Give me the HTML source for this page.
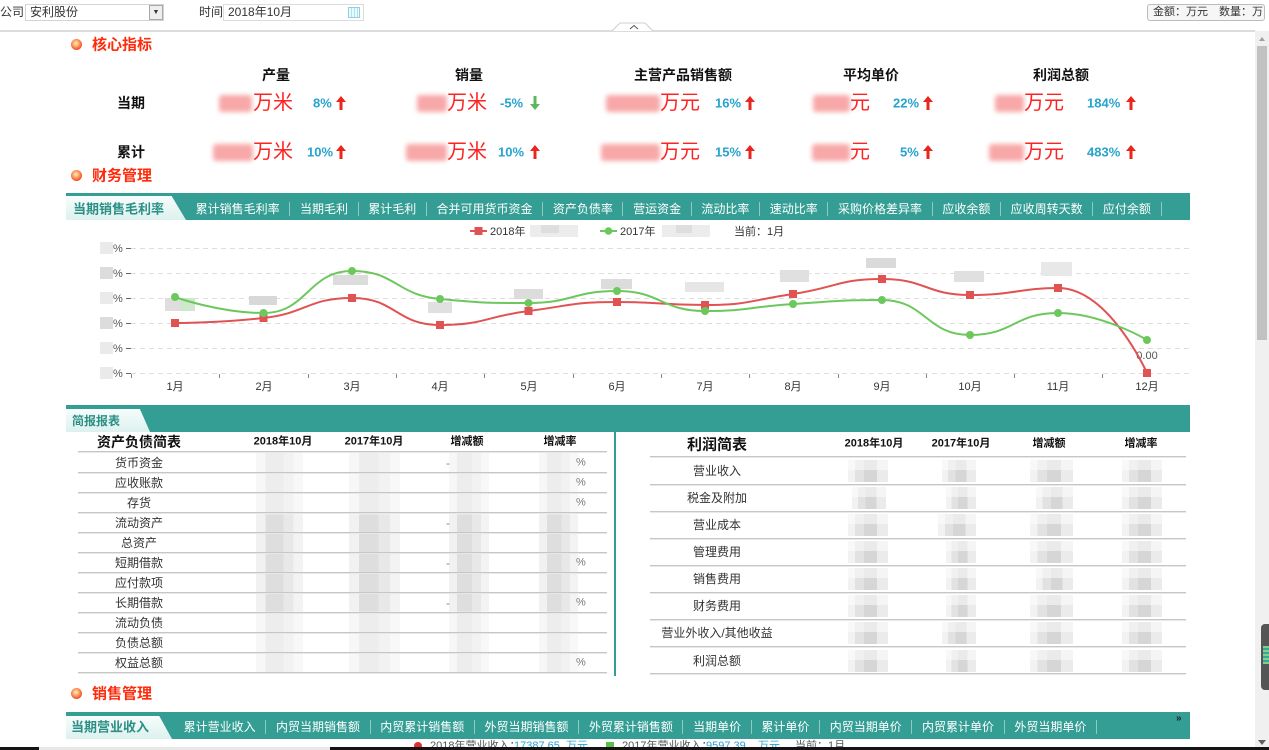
<!DOCTYPE html>
<html><head><meta charset="utf-8">
<style>
*{margin:0;padding:0;box-sizing:border-box}
html,body{width:1269px;height:750px;overflow:hidden;background:#fff}
body{position:relative;font-family:"Liberation Sans","Noto Sans CJK SC",sans-serif;color:#333}
.a{position:absolute;white-space:nowrap;line-height:1}
.vc{transform:translateY(-50%)}
.cc{transform:translate(-50%,-50%)}
.sec{font-size:15px;font-weight:bold;color:#ff2a0a;left:92px}
.ico{position:absolute;left:71px;width:11px;height:11px;border-radius:50%;background:radial-gradient(circle at 45% 40%,#fff0d0 0,#ffb070 30%,#f0502a 70%,#d83a20 100%)}
.kh{font-size:14px;font-weight:bold;color:#111}
.unit{font-size:20px;color:#ff2222}
.pct{font-size:13px;font-weight:bold;color:#27a3cd}
.blur{position:absolute;background:#f8a8a8;filter:blur(2.5px);border-radius:3px}
.bar{position:absolute;left:66px;width:1124px;background:#349e95}
.tabs{position:absolute;display:flex;color:#fff;font-size:12px;line-height:14px}
.tabs span{padding:0 9.65px;border-right:1px solid rgba(255,255,255,.45)}
.act{position:absolute;left:66px;clip-path:polygon(0 0,88% 0,100% 100%,0 100%);background:linear-gradient(#f7fdfc,#dcf1ee)}
.actt{font-size:13px;font-weight:bold;color:#2b8f86}
.tl{font-size:12px;color:#333}
.th{font-size:11px;font-weight:bold;color:#111}
.ln{position:absolute;height:2px;background:linear-gradient(#c6c6c6 0 50%,#e8e8e8 50%)}
.g{position:absolute;background:linear-gradient(180deg,rgba(255,255,255,.45) 0 28%,rgba(255,255,255,0) 28% 72%,rgba(255,255,255,.45) 72%),linear-gradient(90deg,#f1f1f1 0 20%,#dedede 20% 58%,#e8e8e8 58% 80%,#f3f3f3 80%)}
.h{background:linear-gradient(180deg,rgba(255,255,255,.5) 0 45%,rgba(255,255,255,0) 45%),linear-gradient(90deg,#f2f2f2 0 18%,#e2e2e2 18% 40%,#d6d6d6 40% 72%,#ebebeb 72%)}
</style></head><body>

<!-- top controls -->
<div class="a" style="left:0;top:6px;font-size:12px">公司</div>
<div class="a" style="left:25px;top:4px;width:139px;height:17px;border:1px solid #d4d4d4"></div>
<div class="a" style="left:30px;top:6px;font-size:12px">安利股份</div>
<div class="a" style="left:149px;top:5px;width:14px;height:15px;border:1px solid #a8a8a8;background:#eee;font-size:7px;text-align:center;line-height:13px;color:#333">▼</div>
<div class="a" style="left:199px;top:6px;font-size:12px">时间</div>
<div class="a" style="left:223px;top:4px;width:141px;height:17px;border:1px solid #dcdcdc"></div>
<div class="a" style="left:228px;top:6px;font-size:12px">2018年10月</div>
<div class="a" style="left:348px;top:7px;width:12px;height:11px;border:1px solid #9cd;background:repeating-linear-gradient(90deg,#dff 0 2px,#bde 2px 3px)"></div>
<div class="a" style="left:1147px;top:4px;width:118px;height:17px;border:1px solid #bcbcbc;border-radius:3px;background:#f6f6f6"></div>
<div class="a" style="left:1153px;top:7px;font-size:11px;color:#333">金额：万元</div>
<div class="a" style="left:1219px;top:7px;font-size:11px;color:#333">数量：万</div>

<div class="a" style="left:0;top:30px;width:1255px;height:2px;background:#dcdcdc"></div>

<!-- scrollbar -->
<div class="a" style="left:1255px;top:31px;width:14px;height:719px;background:#f0f0f0"></div>
<div class="a" style="left:1257px;top:46px;width:10px;height:294px;background:#c1c1c1"></div>
<div class="a" style="left:1261px;top:624px;width:8px;height:66px;background:#555;border-radius:4px 0 0 4px"></div>
<div class="a" style="left:1263px;top:646px;width:6px;height:18px;background:repeating-linear-gradient(#8c8 0 2px,#3a9 2px 4px)"></div>

<!-- 核心指标 -->
<div class="ico" style="top:39px"></div>
<div class="a sec vc" style="top:45px">核心指标</div>

<div class="a kh cc" style="left:276px;top:75px">产量</div>
<div class="a kh cc" style="left:469px;top:75px">销量</div>
<div class="a kh cc" style="left:683px;top:75px">主营产品销售额</div>
<div class="a kh cc" style="left:871px;top:75px">平均单价</div>
<div class="a kh cc" style="left:1061px;top:75px">利润总额</div>
<div class="a kh cc" style="left:131px;top:103px">当期</div>
<div class="a kh cc" style="left:131px;top:152px">累计</div>

<!-- row 当期 -->
<div class="blur" style="left:219px;top:95px;width:33px;height:17px"></div>
<div class="a unit vc" style="left:253px;top:103px">万米</div>
<div class="a pct vc" style="left:313px;top:103px">8%</div>
<div class="blur" style="left:417px;top:95px;width:30px;height:17px"></div>
<div class="a unit vc" style="left:447px;top:103px">万米</div>
<div class="a pct vc" style="left:500px;top:103px">-5%</div>
<div class="blur" style="left:606px;top:95px;width:54px;height:17px"></div>
<div class="a unit vc" style="left:660px;top:103px">万元</div>
<div class="a pct vc" style="left:715px;top:103px">16%</div>
<div class="blur" style="left:813px;top:95px;width:37px;height:17px"></div>
<div class="a unit vc" style="left:850px;top:103px">元</div>
<div class="a pct vc" style="left:893px;top:103px">22%</div>
<div class="blur" style="left:995px;top:95px;width:29px;height:17px"></div>
<div class="a unit vc" style="left:1024px;top:103px">万元</div>
<div class="a pct vc" style="left:1087px;top:103px">184%</div>

<!-- row 累计 -->
<div class="blur" style="left:213px;top:144px;width:40px;height:17px"></div>
<div class="a unit vc" style="left:253px;top:152px">万米</div>
<div class="a pct vc" style="left:307px;top:152px">10%</div>
<div class="blur" style="left:406px;top:144px;width:41px;height:17px"></div>
<div class="a unit vc" style="left:447px;top:152px">万米</div>
<div class="a pct vc" style="left:498px;top:152px">10%</div>
<div class="blur" style="left:601px;top:144px;width:59px;height:17px"></div>
<div class="a unit vc" style="left:660px;top:152px">万元</div>
<div class="a pct vc" style="left:715px;top:152px">15%</div>
<div class="blur" style="left:812px;top:144px;width:38px;height:17px"></div>
<div class="a unit vc" style="left:850px;top:152px">元</div>
<div class="a pct vc" style="left:900px;top:152px">5%</div>
<div class="blur" style="left:989px;top:144px;width:35px;height:17px"></div>
<div class="a unit vc" style="left:1024px;top:152px">万元</div>
<div class="a pct vc" style="left:1087px;top:152px">483%</div>

<!-- 财务管理 -->
<div class="ico" style="top:170px"></div>
<div class="a sec vc" style="top:176px">财务管理</div>

<div class="bar" style="top:193px;height:27px"></div>
<div class="act" style="top:196px;width:120px;height:24px"></div>
<div class="a actt vc" style="left:73px;top:209px">当期销售毛利率</div>
<div class="tabs" style="left:186px;top:202px">
<span>累计销售毛利率</span><span>当期毛利</span><span>累计毛利</span><span>合并可用货币资金</span><span>资产负债率</span><span>营运资金</span><span>流动比率</span><span>速动比率</span><span>采购价格差异率</span><span>应收余额</span><span>应收周转天数</span><span>应付余额</span>
</div>

<!-- 简报报表 -->
<div class="bar" style="top:405px;height:27px"></div>
<div class="act" style="top:409px;width:84px;height:23px"></div>
<div class="a actt vc" style="left:72px;top:421px;font-size:12px">简报报表</div>

<div class="a" style="left:614px;top:432px;width:2px;height:244px;background:#349e95"></div>

<!-- left table -->
<div class="a cc" style="left:139px;top:442px;font-size:14px;font-weight:bold;color:#111">资产负债简表</div>
<div class="a th cc" style="left:283px;top:442px">2018年10月</div>
<div class="a th cc" style="left:374px;top:442px">2017年10月</div>
<div class="a th cc" style="left:467px;top:442px">增减额</div>
<div class="a th cc" style="left:560px;top:442px">增减率</div>
<div class="ln" style="left:78px;top:451px;width:529px"></div>

<div class="g" style="left:256px;top:453px;width:47px;height:220px"></div>
<div class="g" style="left:349px;top:453px;width:51px;height:220px"></div>
<div class="g" style="left:449px;top:453px;width:40px;height:220px"></div>
<div class="g" style="left:539px;top:453px;width:39px;height:220px"></div>

<div class="a tl cc" style="left:139px;top:463px">货币资金</div>
<div class="a tl cc" style="left:139px;top:483px">应收账款</div>
<div class="a tl cc" style="left:139px;top:503px">存货</div>
<div class="a tl cc" style="left:139px;top:523px">流动资产</div>
<div class="a tl cc" style="left:139px;top:543px">总资产</div>
<div class="a tl cc" style="left:139px;top:563px">短期借款</div>
<div class="a tl cc" style="left:139px;top:583px">应付款项</div>
<div class="a tl cc" style="left:139px;top:603px">长期借款</div>
<div class="a tl cc" style="left:139px;top:623px">流动负债</div>
<div class="a tl cc" style="left:139px;top:643px">负债总额</div>
<div class="a tl cc" style="left:139px;top:663px">权益总额</div>

<div class="a tl vc" style="left:446px;top:463px;color:#888">-</div>
<div class="a tl vc" style="left:446px;top:523px;color:#888">-</div>
<div class="a tl vc" style="left:446px;top:563px;color:#888">-</div>
<div class="a tl vc" style="left:446px;top:603px;color:#888">-</div>
<div class="a vc" style="left:576px;top:463px;font-size:11px;color:#777">%</div>
<div class="a vc" style="left:576px;top:483px;font-size:11px;color:#777">%</div>
<div class="a vc" style="left:576px;top:503px;font-size:11px;color:#777">%</div>
<div class="a vc" style="left:576px;top:563px;font-size:11px;color:#777">%</div>
<div class="a vc" style="left:576px;top:603px;font-size:11px;color:#777">%</div>
<div class="a vc" style="left:576px;top:663px;font-size:11px;color:#777">%</div>

<div class="ln" style="left:78px;top:472px;width:529px"></div>
<div class="ln" style="left:78px;top:492px;width:529px"></div>
<div class="ln" style="left:78px;top:512px;width:529px"></div>
<div class="ln" style="left:78px;top:532px;width:529px"></div>
<div class="ln" style="left:78px;top:552px;width:529px"></div>
<div class="ln" style="left:78px;top:572px;width:529px"></div>
<div class="ln" style="left:78px;top:592px;width:529px"></div>
<div class="ln" style="left:78px;top:612px;width:529px"></div>
<div class="ln" style="left:78px;top:632px;width:529px"></div>
<div class="ln" style="left:78px;top:652px;width:529px"></div>
<div class="ln" style="left:78px;top:672px;width:529px"></div>

<!-- right table -->
<div class="a cc" style="left:717px;top:445px;font-size:15px;font-weight:bold;color:#111">利润简表</div>
<div class="a th cc" style="left:874px;top:444px">2018年10月</div>
<div class="a th cc" style="left:961px;top:444px">2017年10月</div>
<div class="a th cc" style="left:1049px;top:444px">增减额</div>
<div class="a th cc" style="left:1141px;top:444px">增减率</div>
<div class="ln" style="left:650px;top:456px;width:536px"></div>

<div class="a tl cc" style="left:717px;top:471px">营业收入</div>
<div class="a tl cc" style="left:717px;top:498px">税金及附加</div>
<div class="a tl cc" style="left:717px;top:525px">营业成本</div>
<div class="a tl cc" style="left:717px;top:552px">管理费用</div>
<div class="a tl cc" style="left:717px;top:579px">销售费用</div>
<div class="a tl cc" style="left:717px;top:606px">财务费用</div>
<div class="a tl cc" style="left:717px;top:633px">营业外收入/其他收益</div>
<div class="a tl cc" style="left:717px;top:661px">利润总额</div>

<div class="g h" style="left:848px;top:460px;width:40px;height:22px"></div>
<div class="g h" style="left:942px;top:460px;width:34px;height:22px"></div>
<div class="g h" style="left:1030px;top:460px;width:43px;height:22px"></div>
<div class="g h" style="left:1122px;top:460px;width:40px;height:22px"></div>
<div class="g h" style="left:852px;top:487px;width:34px;height:22px"></div>
<div class="g h" style="left:946px;top:487px;width:30px;height:22px"></div>
<div class="g h" style="left:1036px;top:487px;width:37px;height:22px"></div>
<div class="g h" style="left:1122px;top:487px;width:40px;height:22px"></div>
<div class="g h" style="left:848px;top:514px;width:40px;height:22px"></div>
<div class="g h" style="left:938px;top:514px;width:38px;height:22px"></div>
<div class="g h" style="left:1030px;top:514px;width:43px;height:22px"></div>
<div class="g h" style="left:1122px;top:514px;width:40px;height:22px"></div>
<div class="g h" style="left:848px;top:541px;width:40px;height:22px"></div>
<div class="g h" style="left:946px;top:541px;width:30px;height:22px"></div>
<div class="g h" style="left:1030px;top:541px;width:43px;height:22px"></div>
<div class="g h" style="left:1122px;top:541px;width:40px;height:22px"></div>
<div class="g h" style="left:848px;top:568px;width:40px;height:22px"></div>
<div class="g h" style="left:946px;top:568px;width:30px;height:22px"></div>
<div class="g h" style="left:1036px;top:568px;width:37px;height:22px"></div>
<div class="g h" style="left:1122px;top:568px;width:40px;height:22px"></div>
<div class="g h" style="left:848px;top:595px;width:40px;height:22px"></div>
<div class="g h" style="left:946px;top:595px;width:30px;height:22px"></div>
<div class="g h" style="left:1030px;top:595px;width:43px;height:22px"></div>
<div class="g h" style="left:1122px;top:595px;width:40px;height:22px"></div>
<div class="g h" style="left:848px;top:622px;width:40px;height:22px"></div>
<div class="g h" style="left:942px;top:622px;width:34px;height:22px"></div>
<div class="g h" style="left:1030px;top:622px;width:43px;height:22px"></div>
<div class="g h" style="left:1122px;top:622px;width:40px;height:22px"></div>
<div class="g h" style="left:848px;top:650px;width:40px;height:22px"></div>
<div class="g h" style="left:946px;top:650px;width:30px;height:22px"></div>
<div class="g h" style="left:1030px;top:650px;width:43px;height:22px"></div>
<div class="g h" style="left:1122px;top:650px;width:40px;height:22px"></div>

<div class="ln" style="left:650px;top:484px;width:536px"></div>
<div class="ln" style="left:650px;top:511px;width:536px"></div>
<div class="ln" style="left:650px;top:538px;width:536px"></div>
<div class="ln" style="left:650px;top:565px;width:536px"></div>
<div class="ln" style="left:650px;top:592px;width:536px"></div>
<div class="ln" style="left:650px;top:619px;width:536px"></div>
<div class="ln" style="left:650px;top:646px;width:536px"></div>
<div class="ln" style="left:650px;top:673px;width:536px"></div>

<!-- 销售管理 -->
<div class="ico" style="top:688px"></div>
<div class="a sec vc" style="top:694px">销售管理</div>
<div class="bar" style="top:712px;height:27px"></div>
<div class="act" style="top:716px;width:106px;height:23px"></div>
<div class="a actt vc" style="left:71px;top:727px">当期营业收入</div>
<div class="tabs" style="left:174px;top:720px">
<span>累计营业收入</span><span>内贸当期销售额</span><span>内贸累计销售额</span><span>外贸当期销售额</span><span>外贸累计销售额</span><span>当期单价</span><span>累计单价</span><span>内贸当期单价</span><span>内贸累计单价</span><span>外贸当期单价</span>
</div>
<div class="a" style="left:1176px;top:714px;font-size:10px;font-weight:bold;color:#222">»</div>

<div class="a" style="left:0;top:739px;width:1255px;height:8px;overflow:hidden">
  <div class="a" style="left:414px;top:3px;width:8px;height:8px;border-radius:50%;background:#e03030"></div>
  <div class="a" style="left:430px;top:2px;font-size:11px;color:#555">2018年营业收入：</div>
  <div class="a" style="left:514px;top:2px;font-size:11px;color:#27a3cd">17387.65</div>
  <div class="a" style="left:566px;top:2px;font-size:11px;color:#27a3cd">万元</div>
  <div class="a" style="left:606px;top:3px;width:8px;height:8px;background:#5cbf4c"></div>
  <div class="a" style="left:622px;top:2px;font-size:11px;color:#555">2017年营业收入：</div>
  <div class="a" style="left:706px;top:2px;font-size:11px;color:#27a3cd">9597.39</div>
  <div class="a" style="left:758px;top:2px;font-size:11px;color:#27a3cd">万元</div>
  <div class="a" style="left:795px;top:2px;font-size:11px;color:#555">当前：1月</div>
</div>

<div class="a" style="left:0;top:747px;width:1269px;height:3px;background:#141414"></div>
<div class="a" style="left:39px;top:747px;width:291px;height:3px;background:#e8e8e8"></div>

<svg class="a" style="left:0;top:0" width="1269" height="750" viewBox="0 0 1269 750" xmlns="http://www.w3.org/2000/svg">
  <!-- top bump -->
  <path d="M612,31 L620,23 L645,23 L653,31" fill="#fff" stroke="#cfcfcf" stroke-width="1"/>
  <path d="M630,29 L634,25.5 L638,29" fill="none" stroke="#555" stroke-width="1"/>
  <!-- scrollbar arrows -->
  <path d="M1259,41 L1262,37 L1265,41 Z" fill="#a0a0a0"/>
  <path d="M1258,740 L1262,745 L1266,740 Z" fill="#606060"/>

  <!-- KPI arrows -->
  <g fill="#e8261e">
    <path d="M341,96 l5,6 h-3.5 v8 h-3 v-8 h-3.5 z"/>
    <path d="M750,96 l5,6 h-3.5 v8 h-3 v-8 h-3.5 z"/>
    <path d="M928,96 l5,6 h-3.5 v8 h-3 v-8 h-3.5 z"/>
    <path d="M1131,96 l5,6 h-3.5 v8 h-3 v-8 h-3.5 z"/>
    <path d="M341,145 l5,6 h-3.5 v8 h-3 v-8 h-3.5 z"/>
    <path d="M535,145 l5,6 h-3.5 v8 h-3 v-8 h-3.5 z"/>
    <path d="M750,145 l5,6 h-3.5 v8 h-3 v-8 h-3.5 z"/>
    <path d="M928,145 l5,6 h-3.5 v8 h-3 v-8 h-3.5 z"/>
    <path d="M1131,145 l5,6 h-3.5 v8 h-3 v-8 h-3.5 z"/>
  </g>
  <path d="M535,110 l5,-6 h-3.5 v-8 h-3 v8 h-3.5 z" fill="#5cb85c"/>

  <!-- legend -->
  <line x1="470" y1="231" x2="487" y2="231" stroke="#e15252" stroke-width="2"/>
  <rect x="474.5" y="227" width="8" height="8" fill="#e15252"/>
  <text x="490" y="235" font-size="11" fill="#333" font-family="Liberation Sans, Noto Sans CJK SC, sans-serif">2018年</text>
  <rect x="530" y="225" width="48" height="12" fill="#ececec"/>
  <rect x="541" y="225" width="18" height="8" fill="#dedede"/>
  <line x1="600" y1="231" x2="617" y2="231" stroke="#6cc75c" stroke-width="2"/>
  <circle cx="608.5" cy="231" r="3.8" fill="#6cc75c"/>
  <text x="620" y="235" font-size="11" fill="#333" font-family="Liberation Sans, Noto Sans CJK SC, sans-serif">2017年</text>
  <rect x="662" y="225" width="48" height="12" fill="#ececec"/>
  <rect x="676" y="225" width="16" height="8" fill="#dedede"/>
  <text x="734" y="235" font-size="11" fill="#333" font-family="Liberation Sans, Noto Sans CJK SC, sans-serif">当前：1月</text>

  <!-- grid -->
  <g stroke="#dedede" stroke-width="1" stroke-dasharray="5,4">
    <line x1="131" y1="248.5" x2="1190" y2="248.5"/>
    <line x1="131" y1="273.5" x2="1190" y2="273.5"/>
    <line x1="131" y1="298.5" x2="1190" y2="298.5"/>
    <line x1="131" y1="323.5" x2="1190" y2="323.5"/>
    <line x1="131" y1="348.5" x2="1190" y2="348.5"/>
    <line x1="131" y1="373.5" x2="1190" y2="373.5"/>
  </g>
  <g stroke="#666" stroke-width="1">
    <line x1="126" y1="248.5" x2="131" y2="248.5"/>
    <line x1="126" y1="273.5" x2="131" y2="273.5"/>
    <line x1="126" y1="298.5" x2="131" y2="298.5"/>
    <line x1="126" y1="323.5" x2="131" y2="323.5"/>
    <line x1="126" y1="348.5" x2="131" y2="348.5"/>
    <line x1="126" y1="373.5" x2="131" y2="373.5"/>
  </g>
  <g stroke="#888" stroke-width="1">
    <line x1="131.5" y1="374" x2="131.5" y2="378"/>
    <line x1="219.5" y1="374" x2="219.5" y2="378"/>
    <line x1="308.5" y1="374" x2="308.5" y2="378"/>
    <line x1="396.5" y1="374" x2="396.5" y2="378"/>
    <line x1="484.5" y1="374" x2="484.5" y2="378"/>
    <line x1="573.5" y1="374" x2="573.5" y2="378"/>
    <line x1="661.5" y1="374" x2="661.5" y2="378"/>
    <line x1="749.5" y1="374" x2="749.5" y2="378"/>
    <line x1="838.5" y1="374" x2="838.5" y2="378"/>
    <line x1="926.5" y1="374" x2="926.5" y2="378"/>
    <line x1="1014.5" y1="374" x2="1014.5" y2="378"/>
    <line x1="1102.5" y1="374" x2="1102.5" y2="378"/>
  </g>
  <!-- y labels -->
  <g fill="#eaeaea">
    <rect x="100" y="242" width="13" height="12"/>
    <rect x="100" y="267" width="13" height="12" fill="#dcdcdc"/>
    <rect x="100" y="292" width="13" height="12"/>
    <rect x="100" y="317" width="13" height="12" fill="#dcdcdc"/>
    <rect x="100" y="342" width="13" height="12"/>
    <rect x="100" y="367" width="13" height="12"/>
  </g>
  <g font-size="11" fill="#555" font-family="Liberation Sans, sans-serif">
    <text x="113" y="252">%</text>
    <text x="113" y="277">%</text>
    <text x="113" y="302">%</text>
    <text x="113" y="327">%</text>
    <text x="113" y="352">%</text>
    <text x="113" y="377">%</text>
  </g>
  <!-- x labels -->
  <g font-size="11" fill="#333" text-anchor="middle" font-family="Liberation Sans, Noto Sans CJK SC, sans-serif">
    <text x="175" y="390">1月</text>
    <text x="264" y="390">2月</text>
    <text x="352" y="390">3月</text>
    <text x="440" y="390">4月</text>
    <text x="529" y="390">5月</text>
    <text x="617" y="390">6月</text>
    <text x="705" y="390">7月</text>
    <text x="793" y="390">8月</text>
    <text x="882" y="390">9月</text>
    <text x="970" y="390">10月</text>
    <text x="1058" y="390">11月</text>
    <text x="1147" y="390">12月</text>
  </g>
  <!-- data label boxes -->
  <g>
    <rect x="165" y="298" width="30" height="13" fill="#dedede"/><rect x="180" y="298" width="15" height="13" fill="#cfe8cc"/>
    <rect x="249" y="296" width="28" height="9" fill="#d8d8d8"/>
    <rect x="333" y="275" width="35" height="10" fill="#dcdcdc"/>
    <rect x="428" y="302" width="24" height="11" fill="#e0e0e0"/>
    <rect x="514" y="289" width="29" height="10" fill="#dcdcdc"/>
    <rect x="601" y="279" width="31" height="10" fill="#dcdcdc"/>
    <rect x="685" y="282" width="39" height="10" fill="#e6e6e6"/>
    <rect x="780" y="270" width="29" height="12" fill="#e0e0e0"/>
    <rect x="866" y="258" width="30" height="10" fill="#dadada"/>
    <rect x="954" y="271" width="30" height="11" fill="#e0e0e0"/>
    <rect x="1041" y="262" width="31" height="14" fill="#e8e8e8"/>
  </g>
  <text x="1147" y="359" font-size="11" fill="#555" text-anchor="middle" font-family="Liberation Sans, sans-serif">0.00</text>

  <!-- series -->
  <path d="M175,323 C175,323 219.5,323 263.5,318 C307.5,313 308,298 352,298 C396,298 396,325 440,325 C484,325 484.5,316.75 528.5,311 C572.5,305.25 573,302 617,302 C661,302 661,305 705,305 C749,305 749,300.5 793,294 C837,287.5 838,279 882,279 C926,279 926,295 970,295 C1014,295 1021,288 1058,288 C1109,288 1147,373 1147,373" fill="none" stroke="#e15252" stroke-width="2"/>
  <path d="M175,297 C175,297 219.5,313 263.5,313 C307.5,313 308,271 352,271 C396,271 396,295 440,299 C484,303 484.5,303 528.5,303 C572.5,303 573,291 617,291 C661,291 661,311 705,311 C749,311 749,306.75 793,304 C837,301.25 838,300 882,300 C926,300 926,335 970,335 C1014,335 1014,313 1058,313 C1102,313 1147,340 1147,340" fill="none" stroke="#6cc75c" stroke-width="2"/>
  <g fill="#e15252">
    <rect x="171" y="319" width="8" height="8"/>
    <rect x="259.5" y="314" width="8" height="8"/>
    <rect x="348" y="294" width="8" height="8"/>
    <rect x="436" y="321" width="8" height="8"/>
    <rect x="524.5" y="307" width="8" height="8"/>
    <rect x="613" y="298" width="8" height="8"/>
    <rect x="701" y="301" width="8" height="8"/>
    <rect x="789" y="290" width="8" height="8"/>
    <rect x="878" y="275" width="8" height="8"/>
    <rect x="966" y="291" width="8" height="8"/>
    <rect x="1054" y="284" width="8" height="8"/>
    <rect x="1143" y="369" width="8" height="8"/>
  </g>
  <g fill="#6cc75c">
    <circle cx="175" cy="297" r="4"/>
    <circle cx="263.5" cy="313" r="4"/>
    <circle cx="352" cy="271" r="4"/>
    <circle cx="440" cy="299" r="4"/>
    <circle cx="528.5" cy="303" r="4"/>
    <circle cx="617" cy="291" r="4"/>
    <circle cx="705" cy="311" r="4"/>
    <circle cx="793" cy="304" r="4"/>
    <circle cx="882" cy="300" r="4"/>
    <circle cx="970" cy="335" r="4"/>
    <circle cx="1058" cy="313" r="4"/>
    <circle cx="1147" cy="340" r="4"/>
  </g>
</svg>
</body></html>
